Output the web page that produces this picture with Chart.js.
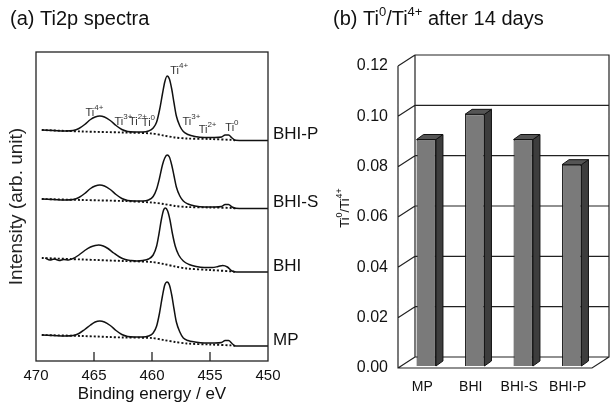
<!DOCTYPE html>
<html>
<head>
<meta charset="utf-8">
<script src="https://cdn.jsdelivr.net/npm/chart.js@4.4.0/dist/chart.umd.min.js"></script>
<style>
  html, body { margin: 0; padding: 0; background: #fff; }
  #wrap { position: relative; width: 612px; height: 405px; }
  #spec { position: absolute; left: 0; top: 0; }
  #ratio { position: absolute; left: 320px; top: 0; }
</style>
</head>
<body>
<div id="wrap">
  <canvas id="spec" width="320" height="405"></canvas>
  <canvas id="ratio" width="292" height="405"></canvas>
</div>
<script>
// ---- (a) Ti2p spectra (arb. units, stacked) ----
const evFine = [469.5, 468.5, 467.5, 466.8, 466.3, 465.8, 465.3, 464.9, 464.5, 464.1,
  463.6, 463.1, 462.6, 462.1, 461.5, 460.8, 460.3, 459.9, 459.6, 459.35,
  459.1, 458.9, 458.7, 458.5, 458.3, 458.1, 457.9, 457.6, 457.3, 456.9,
  456.3, 455.5, 454.6, 454.0, 453.7, 453.4, 453.1, 452.8, 452.0, 450.0];
const intBHIP = [231, 230.5, 230, 230.5, 232.5, 236.5, 241.5, 244, 245, 244,
  240.5, 235.5, 231.5, 229.5, 229, 229, 230, 233, 239, 251,
  267, 279, 285, 282, 272, 258, 245, 235, 229.5, 226.5,
  224.5, 223.5, 223.5, 224, 226, 226, 223, 220.7, 220.5, 220.5];
const intBHIS = [162, 161.5, 161, 161.5, 163.5, 167.5, 172.5, 175, 176, 175,
  171.5, 166.5, 162.5, 160.5, 160, 160, 161, 164.5, 172, 183,
  196, 203, 206, 204, 196, 185, 174, 165, 160, 157,
  155, 154, 154, 154.5, 156.5, 156.5, 154, 152.7, 152.5, 152.5];
const intMP = [26, 25.5, 25, 25.5, 27.5, 31.5, 36, 39, 40, 39,
  35.5, 30.5, 26.5, 24.5, 24, 24, 25, 28, 35, 48,
  65, 76, 79, 76, 66, 52, 39, 29, 23, 20.5,
  19, 18, 18, 18.5, 20.5, 20.5, 17.5, 15, 15, 15];
const evBHI = [469.2, 468.8, 468.4, 468.0, 467.6, 467.2, 466.8, 466.3, 465.8, 465.3,
  464.9, 464.6, 464.2, 463.8, 463.3, 462.8, 462.3, 461.8, 461.3, 460.8,
  460.3, 459.9, 459.6, 459.4, 459.2, 459.0, 458.85, 458.65, 458.45, 458.25,
  458.0, 457.7, 457.3, 456.8, 456.2, 455.5, 454.8, 454.3, 453.9, 453.5,
  453.1, 452.7, 451.0, 450.0];
const intBHI = [103, 101, 102, 100.5, 101.5, 101, 102.5, 106, 110.5, 114,
  115.5, 116, 115, 112.5, 108, 104, 101.5, 100.5, 100, 100.5,
  102, 106, 115, 127, 141, 151, 153, 150, 141, 128,
  115, 106, 100, 96.5, 94.5, 93.5, 93.5, 94.5, 95.5, 94,
  90, 89, 89, 89];

// background (dotted) lines
const evBg = [469.5, 466, 462.5, 460, 459, 458, 457, 455, 453, 452.8];
const bgBHIP = [231, 229.5, 228.5, 227.5, 225.5, 223.5, 222.5, 222, 221, 220.5];
const bgBHIS = [162, 161, 160, 158.5, 157, 155, 154, 153.5, 153, 152.5];
const bgBHI = [103, 101.5, 100, 99, 97, 94.5, 92.5, 91, 89.5, 89];
const bgMP = [26, 25, 23.5, 23, 21, 19, 17.5, 16.5, 15.5, 15];

const spectrumNames = ["BHI-P", "BHI-S", "BHI", "MP"];

// peak labels on the BHI-P trace
const tagCharge = ["4+", "3+", "2+", "0", "4+", "3+", "2+", "0"];
const tagEv = [465.35, 462.85, 461.6, 460.5, 458.05, 457.0, 455.6, 453.3];
const tagInt = [248, 239, 239, 238, 290, 239, 231, 233];

// ---- (b) Ti0/Ti4+ after 14 days ----
const samples = ["MP", "BHI", "BHI-S", "BHI-P"];
const ratios = [0.09, 0.10, 0.09, 0.08];
const ratioTicks = [0, 0.02, 0.04, 0.06, 0.08, 0.10, 0.12];

const FONT = "'Liberation Sans', Arial, Helvetica, sans-serif";

function pts(xs, ys) {
  return xs.map((x, i) => ({ x: x, y: ys[i] }));
}

// draws text with superscripts: parts = [[text, isSup], ...]
function richWidth(ctx, parts, size, supSize) {
  let w = 0;
  parts.forEach(p => {
    ctx.font = (p[1] ? supSize : size) + "px " + FONT;
    w += ctx.measureText(p[0]).width;
  });
  return w;
}
function drawRich(ctx, parts, x, y, size, supSize, rise) {
  ctx.textAlign = "left";
  ctx.textBaseline = "middle";
  parts.forEach(p => {
    ctx.font = (p[1] ? supSize : size) + "px " + FONT;
    ctx.fillText(p[0], x, p[1] ? y - rise : y);
    x += ctx.measureText(p[0]).width;
  });
}

const solid = (data) => ({
  data: data, borderColor: "#111", borderWidth: 1.5, pointRadius: 0,
  cubicInterpolationMode: "monotone", fill: false
});
const dotted = (data) => ({
  data: data, borderColor: "#111", borderWidth: 1.9, borderDash: [2, 2],
  pointRadius: 0, tension: 0.3, fill: false
});

const specDecor = {
  id: "specDecor",
  afterDraw(chart) {
    const ctx = chart.ctx;
    const a = chart.chartArea;
    const xs = chart.scales.x, ys = chart.scales.y;
    ctx.save();
    ctx.strokeStyle = "#222";
    ctx.lineWidth = 1.3;
    ctx.strokeRect(a.left, a.top, a.right - a.left, a.bottom - a.top);
    // inner tick marks
    [465, 460, 455].forEach(v => {
      const px = xs.getPixelForValue(v);
      ctx.beginPath();
      ctx.moveTo(px, a.bottom);
      ctx.lineTo(px, a.bottom - 9);
      ctx.stroke();
    });
    // sample names next to each trace
    ctx.fillStyle = "#111";
    ctx.font = "17px " + FONT;
    ctx.textAlign = "left";
    ctx.textBaseline = "middle";
    const ends = [intBHIP, intBHIS, intBHI, intMP];
    spectrumNames.forEach((n, i) => {
      const last = ends[i][ends[i].length - 1];
      ctx.fillText(n, a.right + 5, ys.getPixelForValue(last) - 6);
    });
    // Ti oxidation-state labels
    ctx.fillStyle = "#333";
    tagCharge.forEach((c, i) => {
      const px = xs.getPixelForValue(tagEv[i]);
      const py = ys.getPixelForValue(tagInt[i]);
      ctx.font = "11px " + FONT;
      const w = ctx.measureText("Ti").width;
      drawRich(ctx, [["Ti", false], [c, true]], px - w / 2, py, 11, 8, 5);
    });
    // panel title
    ctx.fillStyle = "#111";
    drawRich(ctx, [["(a) Ti2p spectra", false]], 10, 19, 20, 13, 7);
    ctx.restore();
  }
};

new Chart(document.getElementById("spec"), {
  type: "line",
  data: {
    datasets: [
      solid(pts(evFine, intBHIP)), dotted(pts(evBg, bgBHIP)),
      solid(pts(evFine, intBHIS)), dotted(pts(evBg, bgBHIS)),
      solid(pts(evBHI, intBHI)), dotted(pts(evBg, bgBHI)),
      solid(pts(evFine, intMP)), dotted(pts(evBg, bgMP))
    ]
  },
  options: {
    responsive: false,
    animation: false,
    layout: { padding: { top: 52, right: 52, left: 0, bottom: 0 } },
    plugins: { legend: { display: false }, tooltip: { enabled: false } },
    scales: {
      x: {
        type: "linear", reverse: true, min: 450, max: 470,
        ticks: { stepSize: 5, color: "#111", font: { size: 15, family: FONT }, padding: 6, maxRotation: 0 },
        grid: { display: false, drawTicks: false },
        border: { display: false },
        title: { display: true, text: "Binding energy / eV", color: "#111",
                 font: { size: 17, family: FONT }, padding: { top: 0, bottom: 0 } },
        afterFit: s => { s.height = 44; }
      },
      y: {
        min: 0, max: 309,
        ticks: { display: false },
        grid: { display: false, drawTicks: false },
        border: { display: false },
        title: { display: true, text: "Intensity (arb. unit)", color: "#222",
                 font: { size: 19, family: FONT }, padding: { top: 5, bottom: 0 } },
        afterFit: s => { s.width = 36; }
      }
    }
  },
  plugins: [specDecor]
});

// pseudo-3D frame and bar faces
const DEPTH_X = 17, DEPTH_Y = -11;
const BAR_DX = 7, BAR_DY = -5;
const box3d = {
  id: "box3d",
  beforeDatasetsDraw(chart) {
    const ctx = chart.ctx;
    const a = chart.chartArea;
    const ys = chart.scales.y;
    ctx.save();
    ctx.strokeStyle = "#222";
    ctx.lineWidth = 1.2;
    ctx.beginPath();
    // back wall
    ctx.rect(a.left + DEPTH_X, a.top + DEPTH_Y, a.right - a.left, a.bottom - a.top);
    ratioTicks.forEach(t => {
      const py = ys.getPixelForValue(t);
      ctx.moveTo(a.left + DEPTH_X, py + DEPTH_Y);
      ctx.lineTo(a.right + DEPTH_X, py + DEPTH_Y);
      ctx.moveTo(a.left, py);
      ctx.lineTo(a.left + DEPTH_X, py + DEPTH_Y);
    });
    // front-left edge and floor
    ctx.moveTo(a.left, a.top);
    ctx.lineTo(a.left, a.bottom);
    ctx.lineTo(a.right, a.bottom);
    ctx.lineTo(a.right + DEPTH_X, a.bottom + DEPTH_Y);
    ctx.stroke();
    ctx.restore();
    ctx.save();
    ctx.translate(4, -2);
  },
  afterDatasetsDraw(chart) {
    const ctx = chart.ctx;
    const meta = chart.getDatasetMeta(0);
    ctx.strokeStyle = "#111";
    ctx.lineWidth = 1;
    meta.data.forEach(bar => {
      const w = bar.width / 2;
      // side face
      ctx.beginPath();
      ctx.moveTo(bar.x + w, bar.y);
      ctx.lineTo(bar.x + w + BAR_DX, bar.y + BAR_DY);
      ctx.lineTo(bar.x + w + BAR_DX, bar.base + BAR_DY);
      ctx.lineTo(bar.x + w, bar.base);
      ctx.closePath();
      ctx.fillStyle = "#3d3d3d";
      ctx.fill();
      ctx.stroke();
      // top face
      ctx.beginPath();
      ctx.moveTo(bar.x - w, bar.y);
      ctx.lineTo(bar.x - w + BAR_DX, bar.y + BAR_DY);
      ctx.lineTo(bar.x + w + BAR_DX, bar.y + BAR_DY);
      ctx.lineTo(bar.x + w, bar.y);
      ctx.closePath();
      ctx.fillStyle = "#555";
      ctx.fill();
      ctx.stroke();
    });
    ctx.restore();
  },
  afterDraw(chart) {
    const ctx = chart.ctx;
    ctx.save();
    ctx.fillStyle = "#111";
    drawRich(ctx, [["(b) Ti", false], ["0", true], ["/Ti", false], ["4+", true], [" after 14 days", false]],
      13, 19, 20, 13, 7);
    // rotated y title
    const parts = [["Ti", false], ["0", true], ["/Ti", false], ["4+", true]];
    const w = richWidth(ctx, parts, 13, 9);
    ctx.translate(25, 208);
    ctx.rotate(-Math.PI / 2);
    drawRich(ctx, parts, -w / 2, 0, 13, 9, 5);
    ctx.restore();
  }
};

new Chart(document.getElementById("ratio"), {
  type: "bar",
  data: {
    labels: samples,
    datasets: [{
      data: ratios,
      backgroundColor: "#7a7a7a",
      borderColor: "#111",
      borderWidth: 1,
      barPercentage: 0.4,
      categoryPercentage: 1
    }]
  },
  options: {
    responsive: false,
    animation: false,
    layout: { padding: { top: 66, right: 20, left: 0, bottom: 0 } },
    plugins: { legend: { display: false }, tooltip: { enabled: false } },
    scales: {
      x: {
        grid: { display: false, drawTicks: false },
        border: { display: false },
        ticks: { color: "#111", font: { size: 14, family: FONT }, padding: 11 },
        afterFit: s => { s.height = 37; }
      },
      y: {
        min: 0, max: 0.12,
        afterBuildTicks: s => { s.ticks = ratioTicks.map(v => ({ value: v })); },
        ticks: { color: "#111", font: { size: 16, family: FONT }, padding: 10,
                 callback: v => Number(v).toFixed(2) },
        grid: { display: false, drawTicks: false },
        border: { display: false },
        afterFit: s => { s.width = 78; }
      }
    }
  },
  plugins: [box3d]
});
</script>
</body>
</html>
